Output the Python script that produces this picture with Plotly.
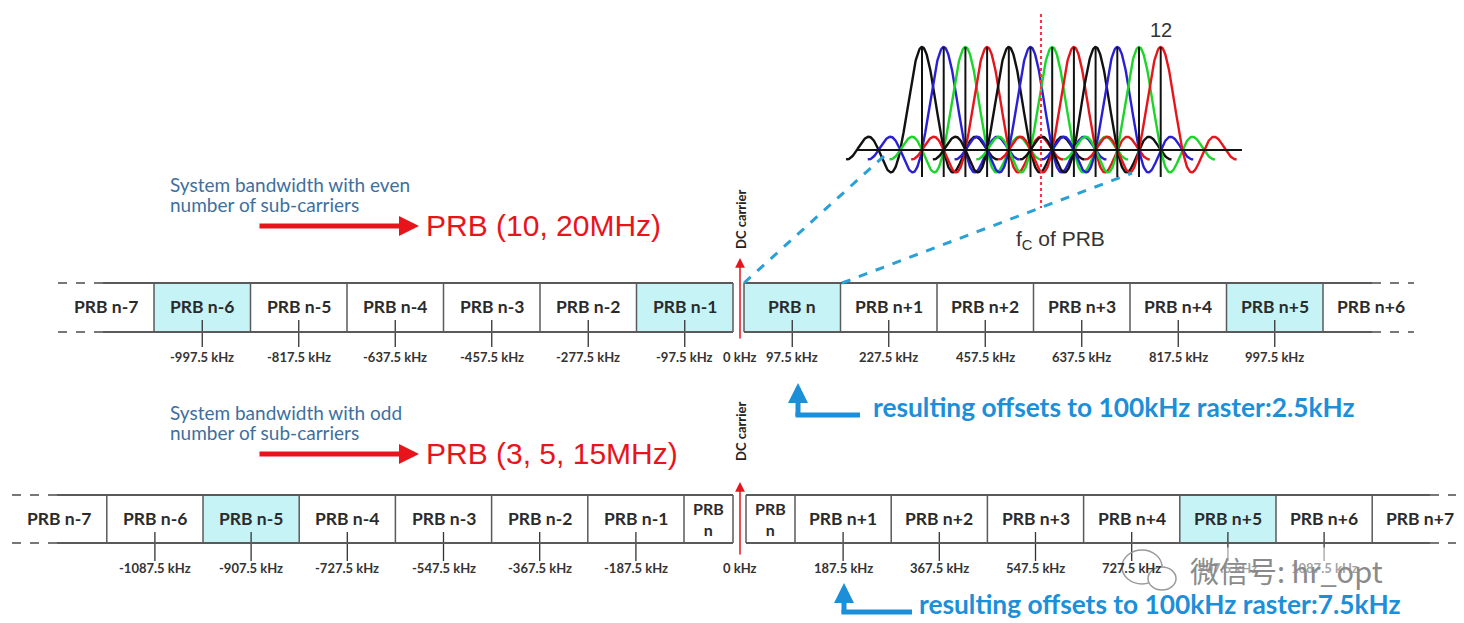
import numpy as np
import plotly.graph_objects as go

# ---- data ----
top_labels = ["PRB n-7", "PRB n-6", "PRB n-5", "PRB n-4", "PRB n-3", "PRB n-2", "PRB n-1",
              "PRB n", "PRB n+1", "PRB n+2", "PRB n+3", "PRB n+4", "PRB n+5", "PRB n+6"]
top_freqs = ["", "-997.5 kHz", "-817.5 kHz", "-637.5 kHz", "-457.5 kHz", "-277.5 kHz", "-97.5 kHz",
             "97.5 kHz", "227.5 kHz", "457.5 kHz", "637.5 kHz", "817.5 kHz", "997.5 kHz", ""]
top_cyan = ["PRB n-6", "PRB n-1", "PRB n", "PRB n+5"]

bot_labels = ["PRB n-7", "PRB n-6", "PRB n-5", "PRB n-4", "PRB n-3", "PRB n-2", "PRB n-1", "PRB<br>n",
              "PRB<br>n", "PRB n+1", "PRB n+2", "PRB n+3", "PRB n+4", "PRB n+5", "PRB n+6", "PRB n+7"]
bot_freqs = ["", "-1087.5 kHz", "-907.5 kHz", "-727.5 kHz", "-547.5 kHz", "-367.5 kHz", "-187.5 kHz", "",
             "", "187.5 kHz", "367.5 kHz", "547.5 kHz", "727.5 kHz", "907.5 kHz", "1087.5 kHz", ""]
bot_cyan = ["PRB n-5", "PRB n+5"]

subcarrier_colors = ["#111111", "#2a1fd6", "#19d628", "#e8141c"] * 3

COLORS = {
    "cyan": "#c6f3f6",
    "edge": "#5a5a5a",
    "red": "#e8141c",
    "blue": "#1c8fd9",
    "dash": "#2aa0d6",
    "note": "#3d6f9f",
    "text": "#2b2b2b",
}
LABEL_FONT = "Lato, 'Open Sans', sans-serif"
ARIAL = "Liberation Sans, Arial, sans-serif"
PAGE_PAD = 8  # the page body margin the figure sits inside

fig = go.Figure()
shapes = []
annotations = []


def line(x0, y0, x1, y1, color, width=1.5, dash=None):
    shapes.append(dict(type="line", x0=x0, y0=y0, x1=x1, y1=y1, xref="x", yref="y",
                       line=dict(color=color, width=width, dash=dash)))


def text(x, y, s, size, color, family=LABEL_FONT, xanchor="center", angle=0, **kw):
    annotations.append(dict(x=x, y=y, text=s, showarrow=False, xref="x", yref="y",
                            xanchor=xanchor, yanchor="middle", textangle=angle,
                            font=dict(size=size, color=color, family=family), **kw))


def arrow(x, y, ax, ay, color, width, size=1.0):
    annotations.append(dict(x=x, y=y, ax=ax, ay=ay, xref="x", yref="y", axref="x", ayref="y",
                            text="", showarrow=True, arrowhead=2, arrowsize=size,
                            arrowwidth=width, arrowcolor=color))


def draw_row(labels, freqs, cyan, y0, y1, left_end, right_start, w, half_w,
             dash_start, solid_start, solid_end, dash_end, tick_top, tick_bot, label_y):
    n_left = len(labels) // 2
    widths = [half_w if "<br>" in lb else w for lb in labels]
    edges = []
    x = left_end - sum(widths[:n_left])
    for wd in widths[:n_left]:
        edges.append((x, x + wd))
        x += wd
    x = right_start
    for wd in widths[n_left:]:
        edges.append((x, x + wd))
        x += wd
    for i, (lb, (a, b)) in enumerate(zip(labels, edges)):
        if lb in cyan:
            shapes.append(dict(type="rect", x0=a, x1=b, y0=y0, y1=y1, xref="x", yref="y",
                               fillcolor=COLORS["cyan"], line=dict(width=0), layer="below"))
        c = (a + b) / 2
        if "<br>" in lb:
            text(c, (y0 + y1) / 2, "<b>" + lb + "</b>", 16, COLORS["text"])
        else:
            text(c, (y0 + y1) / 2 - 1, "<b>" + lb + "</b>", 17.5, COLORS["text"])
        if freqs[i]:
            line(c, tick_top, c, tick_bot, "#333333", 1.3)
            text(c, label_y, "<b>" + freqs[i] + "</b>", 13, "#333333")
    for yy in (y0, y1):
        line(dash_start, yy, solid_start, yy, "#777777", 1.8, "dash")
        line(solid_start, yy, left_end, yy, COLORS["edge"], 1.8)
        line(right_start, yy, solid_end, yy, COLORS["edge"], 1.8)
        line(solid_end, yy, dash_end, yy, "#777777", 1.8, "dash")
    for a, b in edges[1:n_left]:
        line(a, y0, a, y1, COLORS["edge"], 1.5)
    line(left_end, y0, left_end, y1, COLORS["edge"], 1.5)
    line(right_start, y0, right_start, y1, COLORS["edge"], 1.5)
    for a, b in edges[n_left:-1]:
        line(b, y0, b, y1, COLORS["edge"], 1.5)


# ---- top row (even number of sub-carriers) ----
draw_row(top_labels, top_freqs, top_cyan, 283, 332, 733, 744, 96.5, 48,
         58, 103, 1372, 1414, 320, 347, 357)
text(740, 357, "<b>0 kHz</b>", 13, "#333333")

# ---- bottom row (odd number of sub-carriers) ----
draw_row(bot_labels, bot_freqs, bot_cyan, 495, 543, 733, 746, 96.2, 49,
         12, 57, 1430, 1464, 532, 561, 568)
text(740, 568, "<b>0 kHz</b>", 13, "#333333")

# ---- headings, red arrows ----
for y, note1, note2, prb in [
        (184, "System bandwidth with even", "number of sub-carriers", "PRB (10, 20MHz)"),
        (412, "System bandwidth with odd", "number of sub-carriers", "PRB (3, 5, 15MHz)")]:
    text(168, y, note1, 19, COLORS["note"], xanchor="left")
    text(168, y + 20, note2, 19, COLORS["note"], xanchor="left")
    arrow(419, y + 42, 258, y + 42, COLORS["red"], 5, 0.8)
    text(424, y + 41, prb, 30, COLORS["red"], ARIAL, "left")

# ---- DC carrier markers ----
for y_top, y_bot, y_txt in [(258, 340, 220), (482, 556, 432)]:
    arrow(740, y_top, 740, y_bot, COLORS["red"], 1.5, 1.3)
    text(741, y_txt, "<b>DC carrier</b>", 13, "#222222", angle=-90)

# ---- blue L arrows with offset notes ----
for vx, vy_tip, hy, hx_end, tx, msg in [
        (798, 383, 415, 860, 871, "resulting offsets to 100kHz raster:2.5kHz"),
        (844, 583, 612, 912, 917, "resulting offsets to 100kHz raster:7.5kHz")]:
    line(vx - 2.5, hy, hx_end, hy, COLORS["blue"], 5)
    arrow(vx, vy_tip, vx, hy + 2.5, COLORS["blue"], 5, 0.8)
    text(tx, hy - 8, "<b>" + msg + "</b>", 26.3, COLORS["blue"], xanchor="left")

# ---- zoom lines from PRB n to the inset ----
line(744, 283, 884, 156, COLORS["dash"], 3, "dash")
line(842, 283, 1132, 173, COLORS["dash"], 3, "dash")

# ---- inset: 12 sub-carriers ----
base_y, amp = 150, 103
first_c, spacing = 922, 21.7
u = np.linspace(-3.5, 3.5, 281)
for k, col in enumerate(subcarrier_colors):
    c = first_c + k * spacing
    fig.add_trace(go.Scatter(x=c + u * spacing, y=base_y - amp * np.sinc(u), mode="lines",
                             line=dict(color=col, width=2.4), hoverinfo="skip"))
for k in range(len(subcarrier_colors)):
    c = first_c + k * spacing
    line(c, base_y - amp, c, 177, "#111111", 2)
line(856, base_y, 1242, base_y, "#111111", 2)
line(1041, 14, 1041, 208, "#ff3040", 2, "dot")
text(1161, 30, "12", 20, "#333333", ARIAL)
text(1060, 240, "f<sub>C</sub> of PRB", 21, "#333333", ARIAL)

# ---- watermark ----
shapes.append(dict(type="circle", x0=1122, x1=1162, y0=550, y1=584, xref="x", yref="y",
                   line=dict(color="#9a9a9a", width=1.5)))
shapes.append(dict(type="circle", x0=1148, x1=1176, y0=567, y1=590, xref="x", yref="y",
                   line=dict(color="#9a9a9a", width=1.5), fillcolor="white"))
annotations.append(dict(x=1188, y=570, text="微信号: hr_opt", showarrow=False, xref="x", yref="y",
                        xanchor="left", yanchor="middle", bgcolor="rgba(255,255,255,0.55)",
                        font=dict(size=29, color="#8a8a8a", family="Noto Sans CJK SC")))

fig.update_layout(
    width=1464 - PAGE_PAD, height=623 - PAGE_PAD,
    margin=dict(l=0, r=0, t=0, b=0),
    xaxis=dict(range=[PAGE_PAD, 1464], visible=False, fixedrange=True),
    yaxis=dict(range=[623, PAGE_PAD], visible=False, fixedrange=True),
    plot_bgcolor="white", paper_bgcolor="white",
    showlegend=False,
    shapes=shapes, annotations=annotations,
)
fig.write_html("out.html")
